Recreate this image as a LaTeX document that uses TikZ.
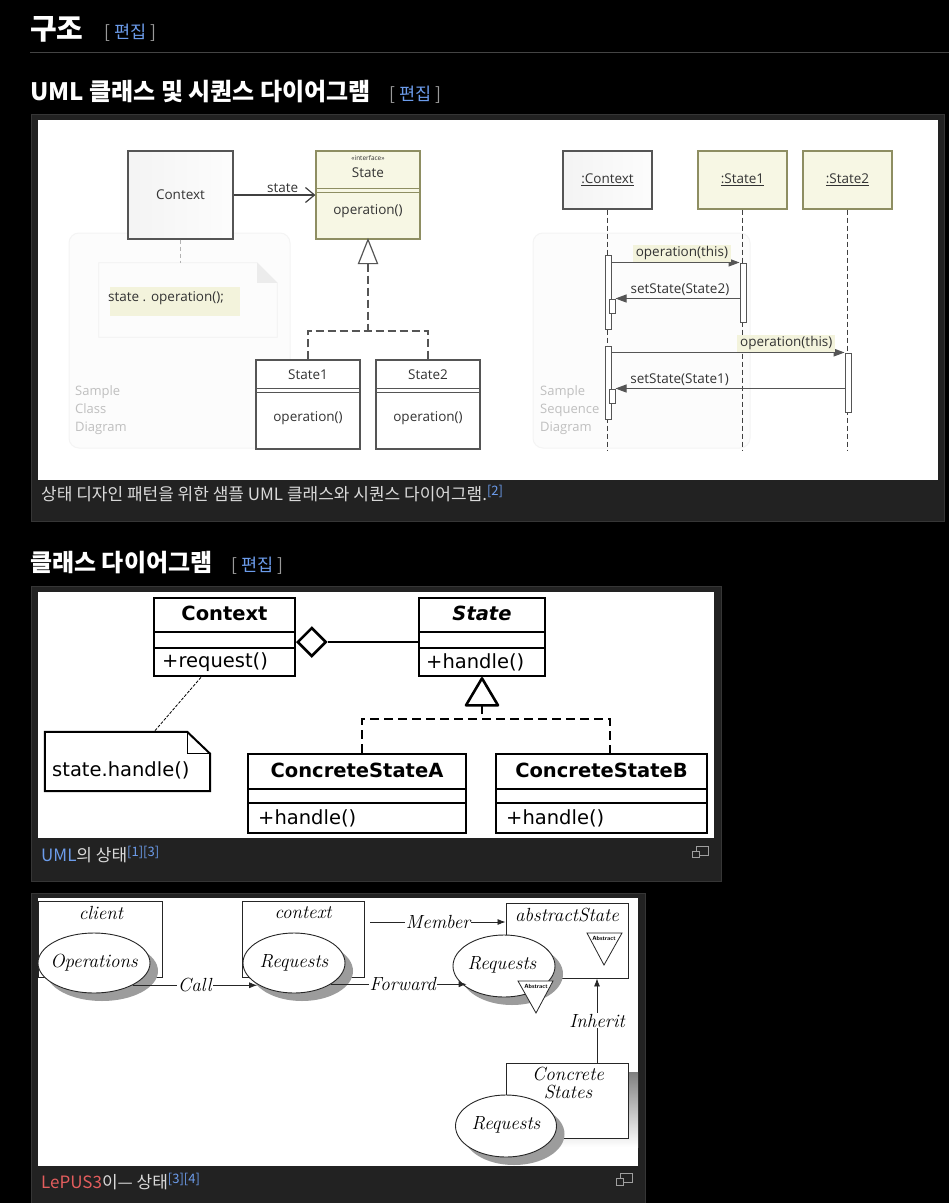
\documentclass[tikz,border=0pt]{standalone}
\usepackage{fontspec}
\newfontfamily\cjk{Noto Sans CJK KR}
\newfontfamily\segoe{Open Sans}
\newfontfamily\dejavu{DejaVu Sans}
\usetikzlibrary{positioning,arrows.meta,shapes.geometric}

\definecolor{panelbg}{HTML}{222222}
\definecolor{panelrule}{HTML}{363636}
\definecolor{headrule}{HTML}{444444}
\definecolor{linkblue}{HTML}{6C9CEB}
\definecolor{linkred}{HTML}{E35D5D}
\definecolor{captext}{HTML}{DADADA}
\definecolor{bracket}{HTML}{9A9A9A}
\definecolor{umlgray}{HTML}{555555}
\definecolor{umlolive}{HTML}{8E8E62}
\definecolor{umlyellow}{HTML}{F7F7E4}
\definecolor{notehl}{HTML}{F3F3DC}
\definecolor{shade}{HTML}{9C9C9C}

\newcommand{\editmark}{{\color{bracket}[} {\color{linkblue}편집} {\color{bracket}]}}
\newcommand{\refmark}[1]{\raisebox{5pt}{\fontsize{13}{13}\selectfont\color{linkblue}#1}}

\tikzset{
  % page
  heading/.style={anchor=west, inner sep=0pt, text=white, font=\cjk\bfseries\fontsize{24}{28}\selectfont},
  editlink/.style={anchor=west, inner sep=0pt, font=\cjk\fontsize{17.5}{20}\selectfont},
  caption/.style={anchor=west, inner sep=0pt, text=captext, font=\cjk\fontsize{17}{20}\selectfont},
  panel/.style={fill=panelbg, draw=panelrule, line width=1pt},
  iconline/.style={draw=gray!75, line width=1pt},
  % sample diagrams
  umltext/.style={inner sep=1pt, text=black!80, font=\segoe\fontsize{13.5}{15}\selectfont},
  umlbox/.style={umltext, draw=umlgray, line width=1.2pt, fill=white, inner sep=0pt},
  umlline/.style={draw=umlgray, line width=1.2pt},
  umldash/.style={umlline, dash pattern=on 8pt off 4pt},
  umlassoc/.style={draw=black!75, line width=1.2pt, -{Straight Barb[length=9pt, width=15pt]}},
  sampleframe/.style={draw=gray!9, fill=gray!2, line width=1pt, rounded corners=10pt},
  samplelabel/.style={anchor=west, align=left, inner sep=0pt, text=gray!50, font=\segoe\fontsize{13}{18}\selectfont},
  lifeline/.style={draw=black!75, line width=1pt, dash pattern=on 5pt off 3pt},
  actbar/.style={draw=umlgray, fill=white, line width=1pt, minimum width=6pt, inner sep=0pt},
  umlmsg/.style={draw=umlgray, line width=1pt, -{Triangle[length=11pt, width=8pt]}},
  msglabel/.style={umltext, anchor=south, inner xsep=3pt, inner ysep=2pt},
  % class diagram
  dtext/.style={inner sep=0pt, font=\dejavu\fontsize{19.5}{22}\selectfont},
  dbox/.style={draw=black, line width=2.6pt, fill=white, inner sep=0pt},
  dline/.style={draw=black, line width=2.6pt},
  ddash/.style={dline, dash pattern=on 9pt off 5pt},
  dnote/.style={draw=black, line width=0.8pt, dash pattern=on 3pt off 1.5pt},
  % LePUS3
  lbox/.style={draw=black!85, line width=0.9pt, fill=white, inner sep=0pt},
  lell/.style={ellipse, draw=black!85, line width=0.9pt, fill=white, inner sep=0pt},
  lshadow/.style={ellipse, fill=shade, inner sep=0pt},
  ltext/.style={inner sep=1pt, font=\rmfamily\itshape\fontsize{19}{21}\selectfont},
  larrow/.style={draw=black!85, line width=0.8pt, -{Latex[length=8pt, width=6pt]}},
}

\begin{document}
\begin{tikzpicture}[x=1pt, y=-1pt]
\useasboundingbox (0,0) rectangle (949,1203);
\fill[black] (0,0) rectangle (949,1203);

% Headings
\node[heading, font=\cjk\bfseries\fontsize{29}{32}\selectfont] (h1) at (30,29) {구조};
\node[editlink] (h1edit) at (104,33) {\editmark};
\draw[headrule, line width=1pt] (30,52) -- (949,52);
\node[heading] (h2) at (30,92) {UML 클래스 및 시퀀스 다이어그램};
\node[editlink] (h2edit) at (389,95) {\editmark};

% Panel 1
\draw[panel] (31,114) rectangle (944,521);
\fill[white] (38,120) rectangle (938,480);
\node[caption] (cap1) at (41,494) {상태 디자인 패턴을 위한 샘플 UML 클래스와 시퀀스 다이어그램.\refmark{[2]}};

% Sample class diagram
\draw[sampleframe] (69,233) rectangle (290,448);
\node[samplelabel] (cdlabel) at (75,410) {Sample\\Class\\Diagram};
\node[umlbox, left color=gray!9, right color=gray!2, minimum width=105pt, minimum height=88pt] (ctx) at (180.5,195) {Context};
\node[umlbox, draw=umlolive, fill=umlyellow, minimum width=104pt, minimum height=88pt] (st) at (368,195) {};
\node[umltext, font=\segoe\fontsize{6.5}{7}\selectfont] (stster) at (368,158.5) {«interface»};
\node[umltext] (stname) at (368,173) {State};
\draw[umlolive, line width=0.9pt] (316,188) -- (420,188) (316,192) -- (420,192);
\node[umltext] (stop) at (368,211) {operation()};
\draw[umlassoc] (ctx.east) -- (st.west) node[pos=0.6, above=1pt, umltext] (statelbl) {state};

% note
\node[minimum width=178pt, minimum height=74pt, inner sep=0pt] (note) at (188,300) {};
\draw[draw=gray!12, fill=gray!2, line width=0.8pt] (note.south west) -- (note.north west) -- ([xshift=-20pt]note.north east) -- ([yshift=-20pt]note.north east) -- (note.south east) -- cycle;
\fill[gray!15] ([xshift=-20pt]note.north east) -- ([yshift=-20pt]note.north east) -- ([shift={(-20pt,-20pt)}]note.north east) -- cycle;
\fill[notehl] (110,287) rectangle (240,316);
\node[umltext, anchor=west] (notetxt) at (107,298) {state . operation();};
\draw[draw=gray!60, line width=1pt, dash pattern=on 4pt off 3pt] (ctx.south) -- (ctx.south |- note.north);

% subclasses
\node[umlbox, minimum width=104pt, minimum height=89pt] (s1) at (308,404.5) {};
\node[umltext] (s1name) at (308,375) {State1};
\draw[umlgray, line width=0.9pt] (256,388) -- (360,388) (256,392) -- (360,392);
\node[umltext] (s1op) at (308,418) {operation()};
\node[umlbox, minimum width=104pt, minimum height=89pt] (s2) at (428,404.5) {};
\node[umltext] (s2name) at (428,375) {State2};
\draw[umlgray, line width=0.9pt] (376,388) -- (480,388) (376,392) -- (480,392);
\node[umltext] (s2op) at (428,418) {operation()};
\draw[umlline, fill=white] (st.south) -- ++(9.5,24) -- ++(-19,0) -- cycle;
\coordinate (inh1) at (368,331);
\draw[umldash] ([yshift=-24pt]st.south) -- (inh1);
\draw[umldash] (s1.north) |- (inh1) -| (s2.north);

% Sample sequence diagram
\draw[sampleframe] (533,233) rectangle (750,448);
\node[samplelabel] (sdlabel) at (540,410) {Sample\\Sequence\\Diagram};
\node[umlbox, left color=gray!9, right color=gray!2, minimum width=89pt, minimum height=58pt] (lc) at (607.5,180) {\underline{:Context}};
\node[umlbox, draw=umlolive, fill=umlyellow, minimum width=89pt, minimum height=58pt] (l1) at (742.5,180) {\underline{:State1}};
\node[umlbox, draw=umlolive, fill=umlyellow, minimum width=89pt, minimum height=58pt] (l2) at (847.5,180) {\underline{:State2}};
\draw[lifeline] (lc.south) -- ++(0,241);
\draw[lifeline] (l1.south) -- ++(0,241);
\draw[lifeline] (l2.south) -- ++(0,241);
\node[actbar, minimum height=74pt] (a1) at (608,292) {};
\node[actbar, minimum height=73pt] (a2) at (608,382.5) {};
\node[actbar, minimum height=14pt] (n1) at (612,306) {};
\node[actbar, minimum height=14pt] (n2) at (612,396) {};
\node[actbar, minimum height=59pt] (b1) at (743,292.5) {};
\node[actbar, minimum height=59pt] (c1) at (848,382.5) {};
\draw[umlmsg] (a1.east |- b1.north) -- (b1.north west) node[pos=0.55, msglabel, fill=notehl] (m1) {operation(this)};
\draw[umlmsg] (b1.west |- n1.north) -- (n1.north east) node[pos=0.48, msglabel] (m2) {setState(State2)};
\draw[umlmsg] (a2.east |- c1.north) -- (c1.north west) node[pos=0.75, msglabel, fill=notehl] (m3) {operation(this)};
\draw[umlmsg] (c1.west |- n2.north) -- (n2.north east) node[pos=0.72, msglabel] (m4) {setState(State1)};

% Heading 2
\node[heading] (h3) at (30,563) {클래스 다이어그램};
\node[editlink] (h3edit) at (231,566) {\editmark};

% Panel 2
\draw[panel] (31,586) rectangle (721,881);
\fill[white] (38,592) rectangle (714,838);
\node[caption] (cap2) at (41,855) {{\color{linkblue}UML}의 상태\refmark{[1][3]}};
\draw[iconline] (696,846) rectangle (708,855);
\draw[iconline, fill=panelbg] (692,851) rectangle (699,857);

% Context / State
\node[dbox, minimum width=141pt, minimum height=78pt] (ctx2) at (224.5,637) {};
\node[dtext, font=\dejavu\bfseries\fontsize{19.5}{22}\selectfont] (ctx2name) at (224.5,613) {Context};
\draw[dline] (154,632) -- (295,632) (154,648) -- (295,648);
\node[dtext, anchor=west] (ctx2op) at (162,662) {+request()};
\node[dbox, minimum width=126pt, minimum height=78pt] (st2) at (482,637) {};
\node[dtext, font=\dejavu\bfseries\itshape\fontsize{19.5}{22}\selectfont] (st2name) at (482,613) {State};
\draw[dline] (419,632) -- (545,632) (419,648) -- (545,648);
\node[dtext, anchor=west] (st2op) at (426,662) {+handle()};
\node[diamond, draw, line width=2.6pt, fill=white, minimum width=29pt, minimum height=29pt, inner sep=0pt, anchor=west] (agg) at (296,642) {};
\draw[dline] (agg.east) -- (agg.east -| st2.west);

% ConcreteStateA / ConcreteStateB
\node[dbox, minimum width=218pt, minimum height=79pt] (csa) at (357,793.5) {};
\node[dtext, font=\dejavu\bfseries\fontsize{19.5}{22}\selectfont] (csaname) at (357,770) {ConcreteStateA};
\draw[dline] (248,789) -- (466,789) (248,803) -- (466,803);
\node[dtext, anchor=west] (csaop) at (258,818) {+handle()};
\node[dbox, minimum width=211pt, minimum height=79pt] (csb) at (601.5,793.5) {};
\node[dtext, font=\dejavu\bfseries\fontsize{19.5}{22}\selectfont] (csbname) at (601.5,770) {ConcreteStateB};
\draw[dline] (496,789) -- (707,789) (496,803) -- (707,803);
\node[dtext, anchor=west] (csbop) at (506,818) {+handle()};
\draw[dline, fill=white, line join=round] ([yshift=-1pt]st2.south) -- ++(16,27) -- ++(-32,0) -- cycle;
\coordinate (inh2) at (482,719);
\draw[ddash] ([yshift=-28pt]st2.south) -- (inh2);
\draw[ddash] ([xshift=5pt]csa.north) |- (inh2) -| ([xshift=8.5pt]csb.north);

% note
\node[minimum width=165pt, minimum height=59pt, inner sep=0pt] (note2) at (127.5,761.5) {};
\draw[dline, line width=2pt, fill=white] (note2.south west) -- (note2.north west) -- ([xshift=-23pt]note2.north east) -- ([yshift=-22pt]note2.north east) -- (note2.south east) -- cycle;
\draw[dline, line width=1.3pt] ([xshift=-23pt]note2.north east) |- ([yshift=-22pt]note2.north east);
\node[dtext, anchor=west] (note2txt) at (52,770) {state.handle()};
\draw[dnote] ([xshift=-23.5pt]ctx2.south) -- ([xshift=26.5pt]note2.north);

% Panel 3
\draw[panel] (31,893) rectangle (645,1210);
\fill[white] (38,898) rectangle (638,1166);
\node[caption] (cap3) at (41,1182) {{\color{linkred}LePUS3}이— 상태\refmark{[3][4]}};
\draw[iconline] (620,1173) rectangle (632,1182);
\draw[iconline, fill=panelbg] (616,1178) rectangle (623,1185);

% LePUS3 boxes
\node[lbox, minimum width=124pt, minimum height=76pt] (cl) at (100,939) {};
\node[ltext] (cltxt) at (101,913) {client};
\node[lbox, minimum width=122pt, minimum height=76pt] (ctxb) at (303,939) {};
\node[ltext] (ctxbtxt) at (303,913) {context};
\node[lbox, minimum width=122pt, minimum height=75pt] (abs) at (567,940.5) {};
\node[ltext] (abstxt) at (567,915) {abstractState};
\draw[draw=black!85, line width=0.8pt, fill=white] (587,933) -- (622,933) -- (604,965) -- cycle;
\node[inner sep=0pt, font=\sffamily\bfseries\fontsize{6}{6}\selectfont] (abstri) at (604,938) {Abstract};
\fill[shade] (516,1072) rectangle (638,1147);
\node[lbox, minimum width=122pt, minimum height=75pt] (cs) at (567,1100.5) {};
\node[ltext, align=center, font=\rmfamily\itshape\fontsize{19}{18}\selectfont] (cstxt) at (568,1083) {Concrete\\States};

% LePUS3 ellipses
\node[lshadow, minimum width=112pt, minimum height=60pt] (opsh) at (102,971) {};
\node[lell, minimum width=112pt, minimum height=60pt] (op) at (94,963) {};
\node[ltext] (optxt) at (94,963) {Operations};
\node[lshadow, minimum width=102pt, minimum height=60pt] (req1sh) at (302,971) {};
\node[lell, minimum width=102pt, minimum height=60pt] (req1) at (294,963) {};
\node[ltext] (req1txt) at (294,963) {Requests};
\node[lshadow, minimum width=102pt, minimum height=62pt] (req2sh) at (512,974) {};
\node[lell, minimum width=102pt, minimum height=62pt] (req2) at (504,966) {};
\node[ltext] (req2txt) at (502,965) {Requests};
\draw[draw=black!85, line width=0.8pt, fill=white] (518,981) -- (553,981) -- (536,1013) -- cycle;
\node[inner sep=0pt, font=\sffamily\bfseries\fontsize{6}{6}\selectfont] (req2tri) at (536,986) {Abstract};
\node[lshadow, minimum width=101pt, minimum height=62pt] (req3sh) at (514,1134) {};
\node[lell, minimum width=101pt, minimum height=62pt] (req3) at (506,1126) {};
\node[ltext] (req3txt) at (506,1125) {Requests};

% LePUS3 relations
\draw[larrow] (op.-30) -- (req1.-150 |- op.-30) node[midway, ltext, fill=white] (calllbl) {Call};
\draw[larrow] (req1.-30) -- (req2.-150 |- req1.-30) node[pos=0.53, ltext, fill=white] (fwdlbl) {Forward};
\coordinate (memS) at ([shift={(6pt,17pt)}]ctxb.east);
\draw[larrow] (memS) -- (abs.west |- memS) node[midway, ltext, fill=white] (memlbl) {Member};
\draw[larrow] ([xshift=30pt]cs.north) -- ([xshift=30pt]abs.south) node[midway, ltext, fill=white] (inhlbl) {Inherit};
\end{tikzpicture}
\end{document}
